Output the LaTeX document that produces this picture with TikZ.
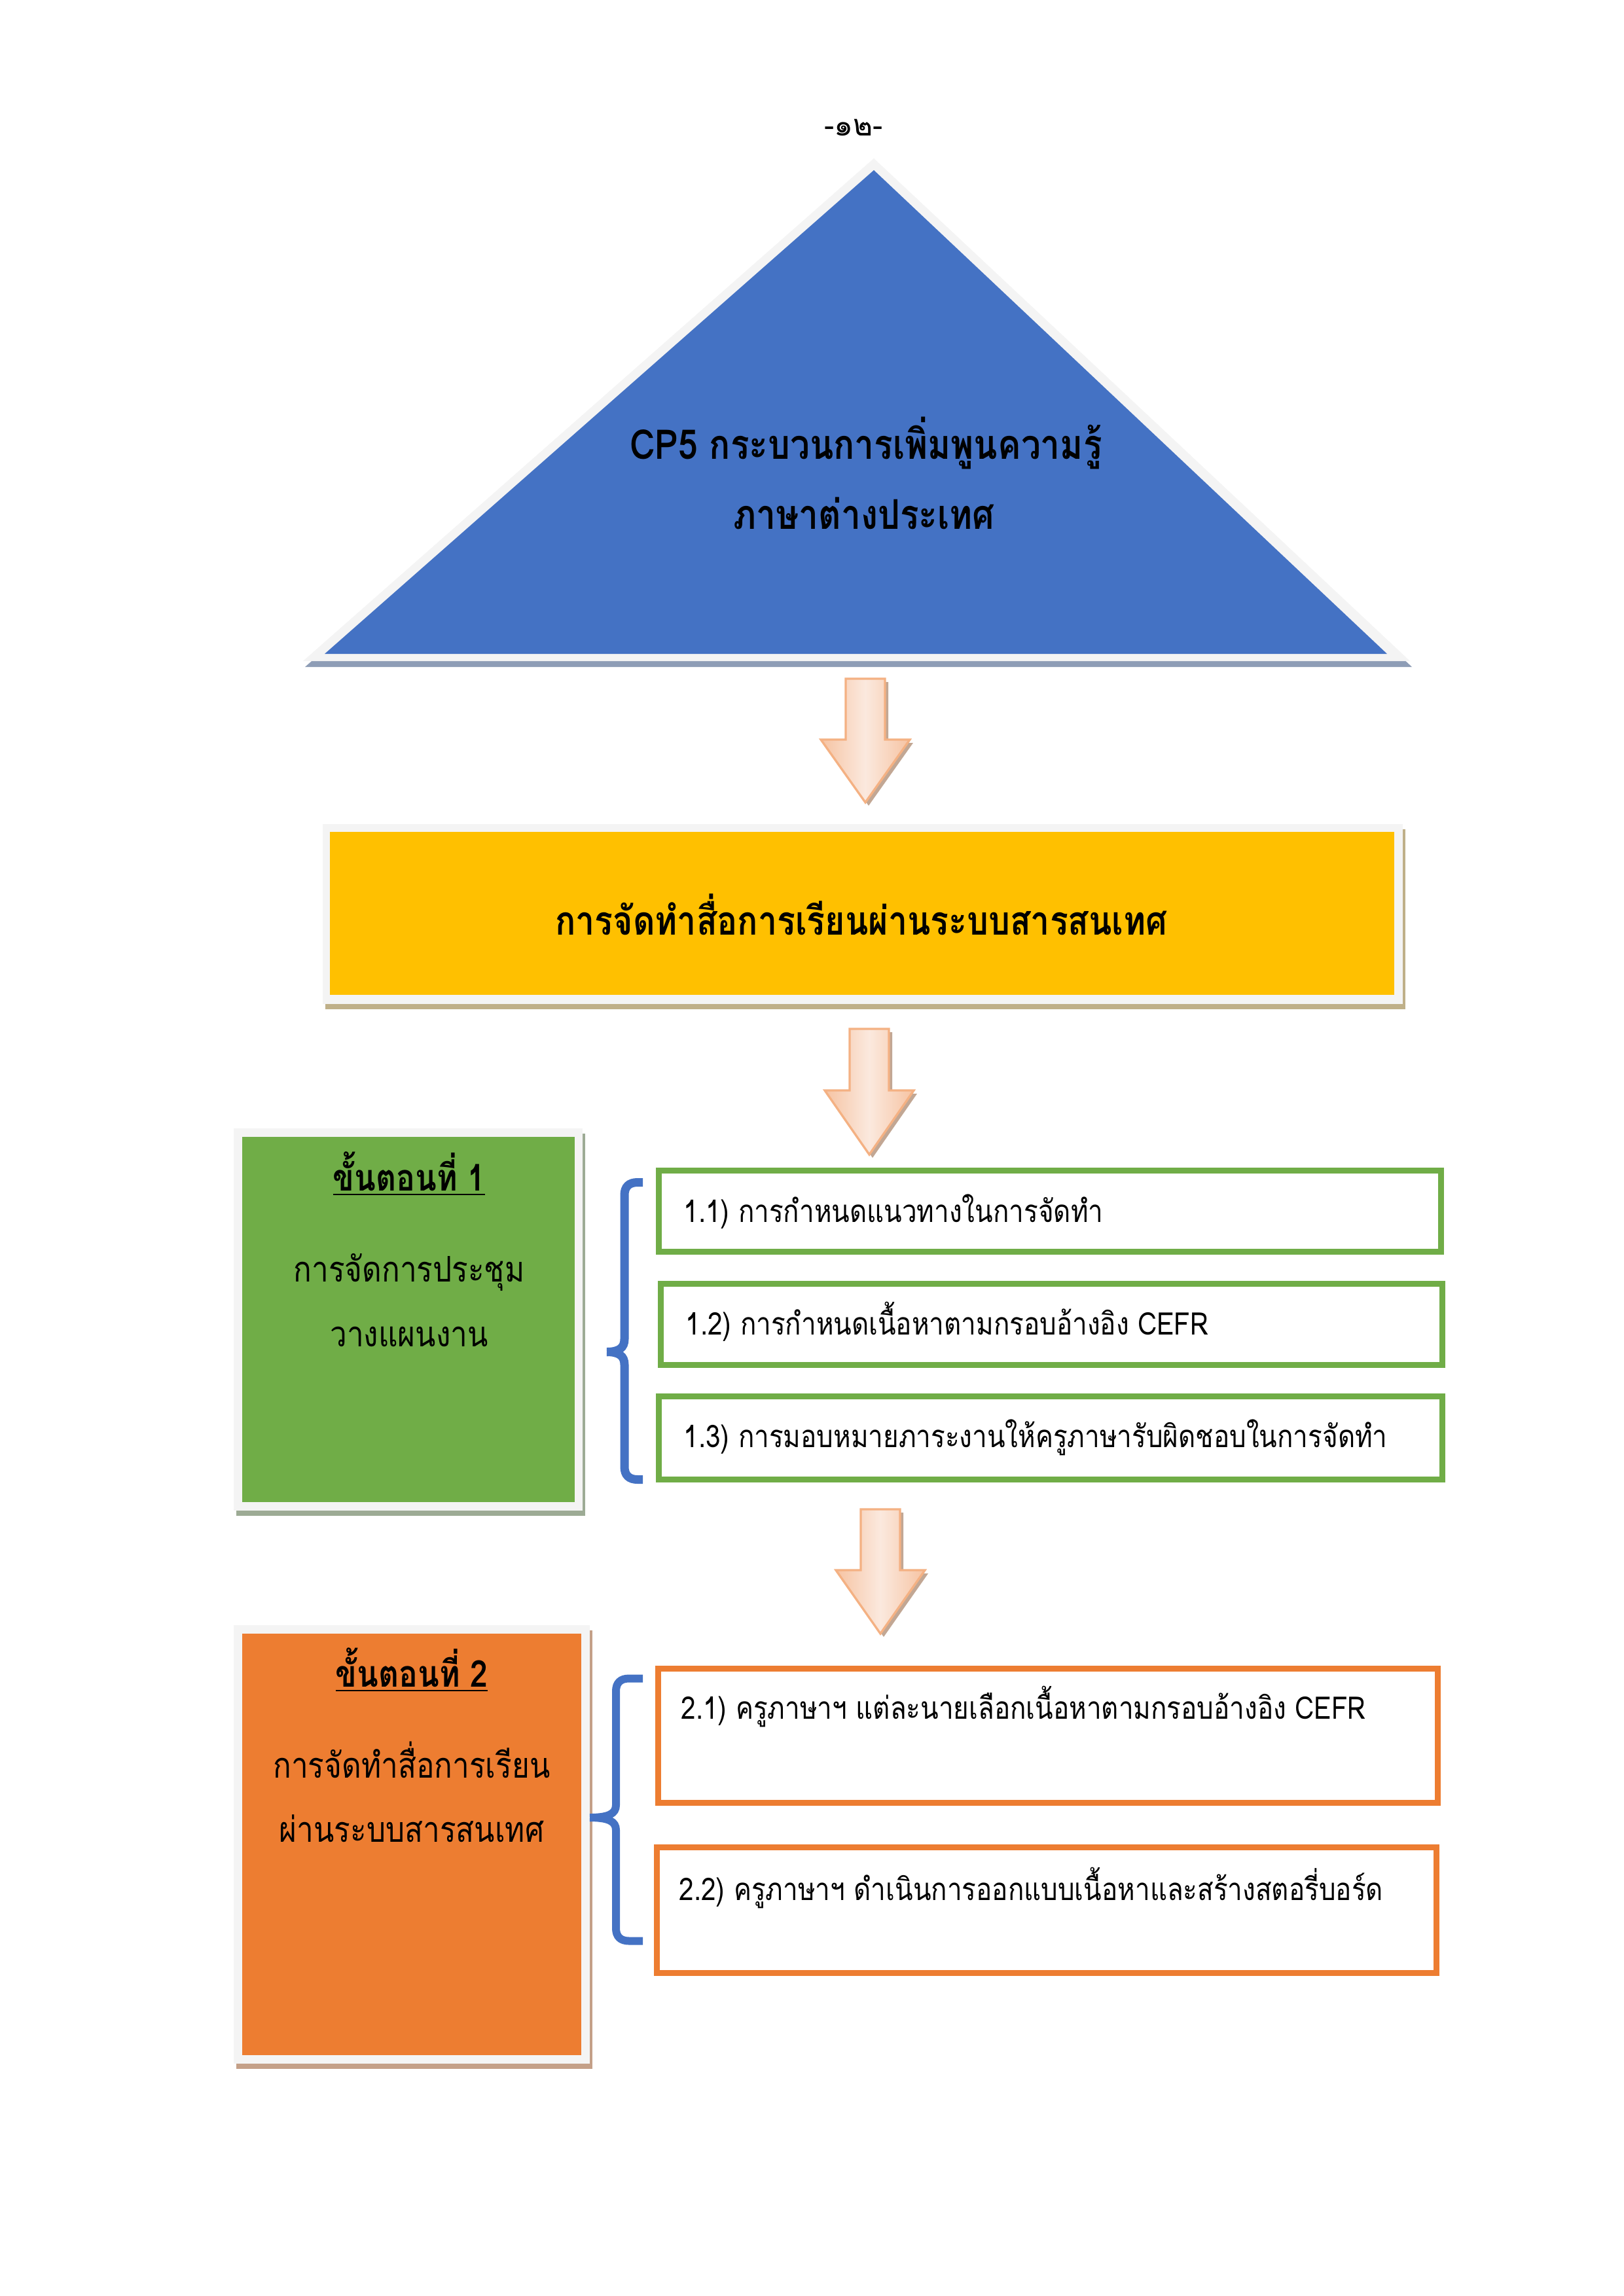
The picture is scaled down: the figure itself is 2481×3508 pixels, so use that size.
\documentclass[tikz,border=0pt]{standalone}
\usepackage{fontspec}
\newfontfamily\thai[Script=Thai]{Loma}
\newfontfamily\thain[Script=Thai,FakeStretch=0.85]{Loma}
\usetikzlibrary{calc}
\definecolor{triblue}{HTML}{4472C4}
\definecolor{lightb}{HTML}{F4F4F4}
\definecolor{trishadow}{HTML}{8E9DB6}
\definecolor{yel}{HTML}{FFC000}
\definecolor{yelshadow}{HTML}{BFB089}
\definecolor{grn}{HTML}{70AD47}
\definecolor{grnshadow}{HTML}{9DAB95}
\definecolor{orn}{HTML}{ED7D31}
\definecolor{ornshadow}{HTML}{C4A088}
\definecolor{arrline}{HTML}{F4B183}
\definecolor{arrpeach}{HTML}{F6C3A2}
\definecolor{arrlight}{HTML}{FBE9DE}
\definecolor{arrshadow}{HTML}{C2A794}
\def\pu{0.2409pt}
\newcommand\blockarrowdraw[4]{%
  \fill[arrshadow] (#1-30+5,#2+5) -- (#1+30+5,#2+5) -- (#1+30+5,#3+5) -- (#1+68+5,#3+5) -- (#1+5,#4+5) -- (#1-68+5,#3+5) -- (#1-30+5,#3+5) -- cycle;
  \draw[arrline, line width=0.8pt, line join=miter, left color=arrpeach, right color=arrpeach, middle color=arrlight]
    (#1-30,#2) -- (#1+30,#2) -- (#1+30,#3) -- (#1+68,#3) -- (#1,#4) -- (#1-68,#3) -- (#1-30,#3) -- cycle;}
\begin{document}
\begin{tikzpicture}[x=0.2409pt,y=-0.2409pt,
  subtxt/.style={font=\thain\fontsize{11.45}{14}\selectfont, inner sep=0pt},
  midtxt/.style={font=\thain\fontsize{13}{16}\selectfont, inner sep=0pt},
  headtxt/.style={font=\thain\bfseries\fontsize{13.6}{16}\selectfont, inner sep=0pt},
  bigtxt/.style={font=\thain\bfseries\fontsize{15.1}{18}\selectfont, inner sep=0pt},
  ytxtstyle/.style={font=\thain\bfseries\fontsize{14.7}{18}\selectfont, inner sep=0pt},
  subg/.style={draw=grn, line width=9*\pu, fill=white, inner sep=0pt},
  subo/.style={draw=orn, line width=9*\pu, fill=white, inner sep=0pt},
  bracestyle/.style={draw=triblue, line width=13*\pu, line cap=butt},
  panel/.style={inner sep=0pt, draw=none}]
\path[use as bounding box] (0,0) rectangle (2481,3508);
\fill[white] (0,0) rectangle (2481,3508);

% page number
\node[font=\thai\fontsize{11}{13}\selectfont, inner sep=0pt] (pnum) at (1304,195) {-๑๒-};

% triangle
\fill[trishadow] (1338,251) -- (2157,1019) -- (466,1019) -- cycle;
\fill[lightb] (1335,242) -- (2154,1010) -- (463,1010) -- cycle;
\fill[triblue] (1335,260) -- (2119,999) -- (496,999) -- cycle;
\node[bigtxt, anchor=base] (tri1) at (1323,701) {CP5 กระบวนการเพิ่มพูนความรู้};
\node[bigtxt, anchor=base] (tri2) at (1320,808) {ภาษาต่างประเทศ};

% arrow 1
\blockarrowdraw{1322}{1037}{1130}{1226}

% yellow panel
\fill[yelshadow] (497,1267) rectangle (2147,1542);
\fill[lightb] (493,1259) rectangle (2143,1534);
\node[panel, fill=yel, minimum width=1626*\pu, minimum height=249*\pu] (ybox) at (1317,1395.5) {};
\node[ytxtstyle, anchor=base] (ytxt) at (1316,1428) {การจัดทำสื่อการเรียนผ่านระบบสารสนเทศ};

% arrow 2
\blockarrowdraw{1328}{1572}{1666}{1764}

% green panel
\fill[grnshadow] (361,1732) rectangle (894,2316);
\fill[lightb] (357,1724) rectangle (890,2308);
\node[panel, fill=grn, minimum width=508*\pu, minimum height=558*\pu] (gbox) at (624,2016) {};
\node[headtxt, anchor=base] (g1) at (625,1819) {\underline{ขั้นตอนที่ 1}};
\node[midtxt, anchor=base] (g2) at (625,1958) {การจัดการประชุม};
\node[midtxt, anchor=base] (g3) at (625,2057) {วางแผนงาน};

% sub boxes 1
\node[subg, minimum width=1195*\pu, minimum height=124*\pu] (b11) at (1604,1850.5) {};
\node[subg, minimum width=1194*\pu, minimum height=124*\pu] (b12) at (1606.5,2023.5) {};
\node[subg, minimum width=1197*\pu, minimum height=127*\pu] (b13) at (1605,2197) {};
\node[subtxt, anchor=base west] (t11) at (1044,1867) {1.1) การกำหนดแนวทางในการจัดทำ};
\node[subtxt, anchor=base west] (t12) at (1047,2039) {1.2) การกำหนดเนื้อหาตามกรอบอ้างอิง CEFR};
\node[subtxt, anchor=base west] (t13) at (1044,2211) {1.3) การมอบหมายภาระงานให้ครูภาษารับผิดชอบในการจัดทำ};

% brace 1
\coordinate (br1t) at (982,1806.5);
\coordinate (br1m) at (927,2065.5);
\coordinate (br1b) at (982,2260.5);
\draw[bracestyle] (br1t) -- (974,1806.5) .. controls (961,1806.5) and (954,1813) .. (954,1826) -- (954,2046) .. controls (954,2059) and (946,2065.5) .. (br1m);
\draw[bracestyle] (br1m) .. controls (946,2065.5) and (954,2072) .. (954,2085) -- (954,2241) .. controls (954,2254) and (961,2260.5) .. (974,2260.5) -- (br1b);

% arrow 3
\blockarrowdraw{1345}{2306}{2399}{2496}

% orange panel
\fill[ornshadow] (361,2491) rectangle (905,3161);
\fill[lightb] (357,2483) rectangle (901,3153);
\node[panel, fill=orn, minimum width=518*\pu, minimum height=644*\pu] (obox) at (629,2818) {};
\node[headtxt, anchor=base] (o1) at (629,2577) {\underline{ขั้นตอนที่ 2}};
\node[midtxt, anchor=base] (o2) at (629,2716) {การจัดทำสื่อการเรียน};
\node[midtxt, anchor=base] (o3) at (629,2814) {ผ่านระบบสารสนเทศ};

% sub boxes 2
\node[subo, minimum width=1191*\pu, minimum height=205*\pu] (b21) at (1601,2652) {};
\node[subo, minimum width=1191*\pu, minimum height=192*\pu] (b22) at (1599,2918.5) {};
\node[subtxt, anchor=base west] (t21) at (1040,2626) {2.1) ครูภาษาฯ แต่ละนายเลือกเนื้อหาตามกรอบอ้างอิง CEFR};
\node[subtxt, anchor=base west] (t22) at (1037,2903) {2.2) ครูภาษาฯ ดำเนินการออกแบบเนื้อหาและสร้างสตอรี่บอร์ด};

% brace 2
\coordinate (br2t) at (982,2564.5);
\coordinate (br2m) at (901,2777);
\coordinate (br2b) at (982,2965.5);
\draw[bracestyle, line width=12*\pu] (br2t) -- (961,2564.5) .. controls (948,2564.5) and (941,2571) .. (941,2584) -- (941,2758) .. controls (941,2771) and (930,2777) .. (br2m);
\draw[bracestyle, line width=12*\pu] (br2m) .. controls (930,2777) and (941,2783) .. (941,2796) -- (941,2946) .. controls (941,2959) and (948,2965.5) .. (961,2965.5) -- (br2b);
\end{tikzpicture}
\end{document}
